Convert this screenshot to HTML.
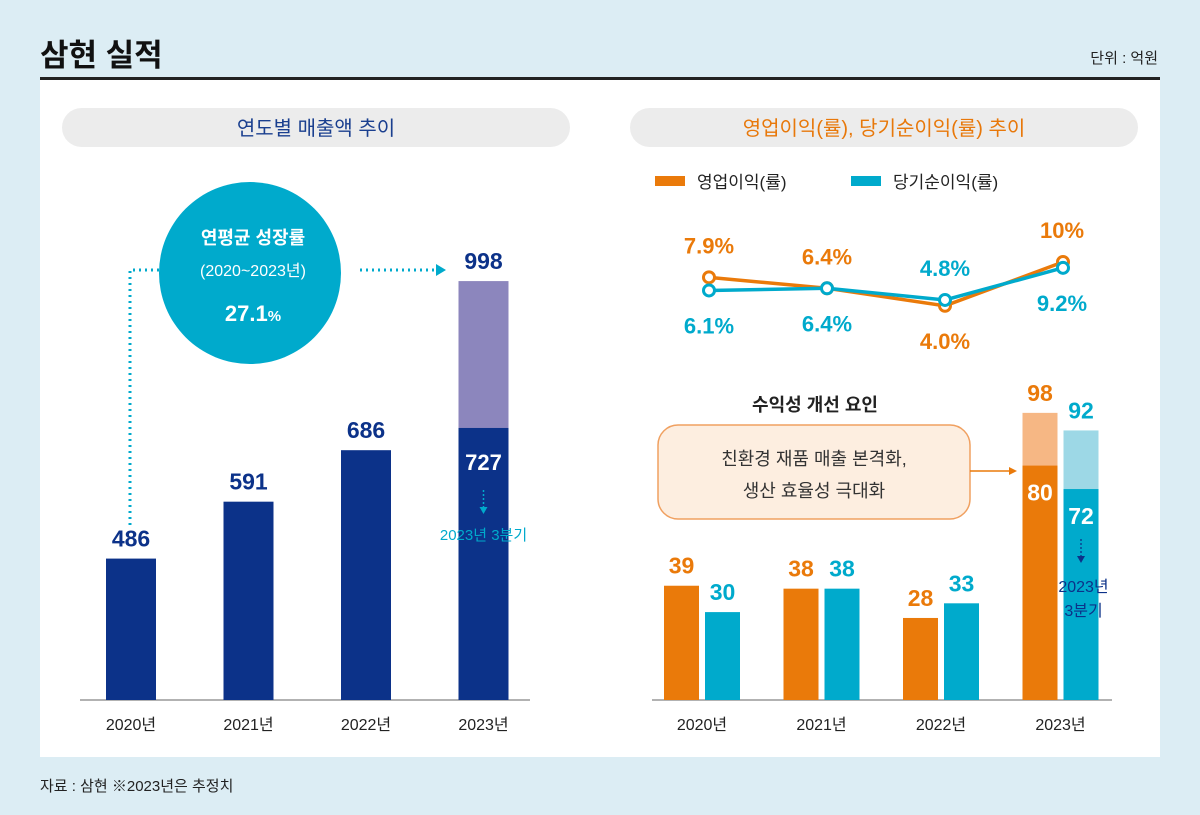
<!DOCTYPE html>
<html><head><meta charset="utf-8">
<style>
body{margin:0;background:#dcedf4;}
svg{display:block;font-family:"Liberation Sans","Noto Sans CJK KR",sans-serif;}
</style></head>
<body>
<svg id="c" width="1200" height="815" viewBox="0 0 1200 815">
<rect x="0" y="0" width="1200" height="815" fill="#dcedf4"/>
<text x="40" y="66" font-size="31" font-weight="bold" fill="#111">삼현 실적</text>
<text x="1158" y="63" font-size="15" fill="#222" text-anchor="end">단위 : 억원</text>
<rect x="40" y="77" width="1120" height="3" fill="#222"/>
<rect x="40" y="80" width="1120" height="677" fill="#fff"/>
<rect x="62" y="108" width="508" height="39" rx="19.5" fill="#ececec"/>
<text x="316" y="135" font-size="20" fill="#1a3f8f" text-anchor="middle">연도별 매출액 추이</text>
<rect x="630" y="108" width="508" height="39" rx="19.5" fill="#ececec"/>
<text x="884" y="135" font-size="20" fill="#e8780a" text-anchor="middle">영업이익(률), 당기순이익(률) 추이</text>
<text x="40" y="791" font-size="15" fill="#222">자료 : 삼현 ※2023년은 추정치</text>
<g id="left"></g>
<g id="right"></g>
</svg>
<script>
const years = ["2020년","2021년","2022년","2023년"];
const revenue = [486, 591, 686, 998];
const revenueQ3 = 727;
const opRate = [7.9, 6.4, 4.0, 10];
const netRate = [6.1, 6.4, 4.8, 9.2];
const opProfit = [39, 38, 28, 98];
const netProfit = [30, 38, 33, 92];
const opQ3 = 80;
const netQ3 = 72;

const NS="http://www.w3.org/2000/svg";
function mk(parent,tag,attrs,text){const e=document.createElementNS(NS,tag);for(const k in attrs)e.setAttribute(k,attrs[k]);if(text!==undefined)e.textContent=text;parent.appendChild(e);return e;}

// Left chart
const L=document.getElementById('left');
const base=700;
const lx=i=>131+i*117.5;
function ly(v){return base-(0.542*v-122);}
mk(L,'line',{x1:80,y1:base,x2:530,y2:base,stroke:'#999','stroke-width':1.5});
revenue.forEach((v,i)=>{
  const x=lx(i), y=ly(v);
  const b=mk(L,'rect',{x:x-25,y:y,width:50,height:base-y,fill:i==3?'#8c86bd':'#0c3289'});
  
  
  const t=mk(L,'text',{x:x,y:y-12,'font-size':23,'font-weight':'bold',fill:'#0c3289','text-anchor':'middle'},String(v));
  
  
  const xl=mk(L,'text',{x:x,y:730,'font-size':16,fill:'#222','text-anchor':'middle'},years[i]);
  
  
});
{
  const x=lx(3), y=ly(revenueQ3);
  const b=mk(L,'rect',{x:x-25,y:y,width:50,height:base-y,fill:'#0c3289'});
  
  
  const t=mk(L,'text',{x:x,y:y+42,'font-size':22,'font-weight':'bold',fill:'#fff','text-anchor':'middle'},String(revenueQ3));
  
  
  mk(L,'line',{x1:x,y1:y+62,x2:x,y2:y+80,stroke:'#00aacc','stroke-width':1.5,'stroke-dasharray':'2 2'});
  mk(L,'path',{d:`M${x-4} ${y+79} L${x+4} ${y+79} L${x} ${y+86}Z`,fill:'#00aacc'});
  const q=mk(L,'text',{x:x,y:y+112,'font-size':15,fill:'#00aacc','text-anchor':'middle'},'2023년 3분기');
  
  
}
// growth circle + dotted lines
mk(L,'path',{d:'M130 525 L130 270 L165 270',fill:'none',stroke:'#00aacc','stroke-width':3,'stroke-dasharray':'2 4'});
mk(L,'path',{d:'M360 270 L436 270',fill:'none',stroke:'#00aacc','stroke-width':3,'stroke-dasharray':'2 4'});
mk(L,'path',{d:'M436 264 L446 270 L436 276Z',fill:'#00aacc'});
const circ=mk(L,'circle',{cx:250,cy:273,r:91,fill:'#00aacc'});


mk(L,'text',{x:253,y:244,'font-size':18,'font-weight':'bold',fill:'#fff','text-anchor':'middle'},'연평균 성장률');
mk(L,'text',{x:253,y:276,'font-size':16,fill:'#fff','text-anchor':'middle'},'(2020~2023년)');
const cg=mk(L,'text',{x:253,y:321,'font-size':22,'font-weight':'bold',fill:'#fff','text-anchor':'middle'});


cg.innerHTML='27.1<tspan font-size="15">%</tspan>';

// Right chart
const R=document.getElementById('right');
const OR='#ea7a0a', TE='#00aacc';
const py=v=>335-7.3*v;
const by=v=>700-2.93*v;
// legend
mk(R,'rect',{x:655,y:176,width:30,height:10,fill:OR});
mk(R,'text',{x:697,y:188,'font-size':17,fill:'#222'},'영업이익(률)');
mk(R,'rect',{x:851,y:176,width:30,height:10,fill:TE});
mk(R,'text',{x:893,y:188,'font-size':17,fill:'#222'},'당기순이익(률)');
// lines
const lpx=i=>709+i*118;
function series(arr,col,name,above){
  const d=arr.map((v,i)=>(i?'L':'M')+lpx(i)+' '+py(v)).join(' ');
  const p=mk(R,'path',{d:d,fill:'none',stroke:col,'stroke-width':3.5});
  
  
  arr.forEach((v,i)=>{
    const c=mk(R,'circle',{cx:lpx(i),cy:py(v),r:5.5,fill:'#fff',stroke:col,'stroke-width':3});
    
    
    const up=above[i];
    const t=mk(R,'text',{x:lpx(i)+(i==3?-1:0),y:up?py(v)-24:py(v)+43,'font-size':22,'font-weight':'bold',fill:col,'text-anchor':'middle'},(Number.isInteger(v)&&v>=10?v:v.toFixed(1))+'%');
    
    
  });
}
series(opRate,OR,'op-rate',[true,true,false,true]);
series(netRate,TE,'net-rate',[false,false,true,false]);
// bars
mk(R,'line',{x1:652,y1:700,x2:1112,y2:700,stroke:'#999','stroke-width':1.5});
years.forEach((yr,i)=>{
  const ox=664+i*119.5, tx=ox+41;
  const ov=opProfit[i], nv=netProfit[i];
  const b1=mk(R,'rect',{x:ox,y:by(ov),width:35,height:700-by(ov),fill:i==3?'#f6b784':OR});
  
  
  const b2=mk(R,'rect',{x:tx,y:by(nv),width:35,height:700-by(nv),fill:i==3?'#9dd8e6':TE});
  
  
  const t1=mk(R,'text',{x:ox+17.5,y:by(ov)-12,'font-size':23,'font-weight':'bold',fill:OR,'text-anchor':'middle'},String(ov));
  
  
  const t2=mk(R,'text',{x:tx+17.5,y:by(nv)-12,'font-size':23,'font-weight':'bold',fill:TE,'text-anchor':'middle'},String(nv));
  
  
  const xl=mk(R,'text',{x:ox+38,y:730,'font-size':16,fill:'#222','text-anchor':'middle'},yr);
  
  
  if(i==3){
    const q1=mk(R,'rect',{x:ox,y:by(opQ3),width:35,height:700-by(opQ3),fill:OR});
    
    
    const q2=mk(R,'rect',{x:tx,y:by(netQ3),width:35,height:700-by(netQ3),fill:TE});
    
    
    const l1=mk(R,'text',{x:ox+17.5,y:by(opQ3)+35,'font-size':23,'font-weight':'bold',fill:'#fff','text-anchor':'middle'},String(opQ3));
    
    
    const l2=mk(R,'text',{x:tx+17.5,y:by(netQ3)+35,'font-size':23,'font-weight':'bold',fill:'#fff','text-anchor':'middle'},String(netQ3));
    
    
    mk(R,'line',{x1:tx+17.5,y1:by(netQ3)+50,x2:tx+17.5,y2:by(netQ3)+68,stroke:'#0c3289','stroke-width':1.3,'stroke-dasharray':'2 2'});
    mk(R,'path',{d:`M${tx+13.5} ${by(netQ3)+67} L${tx+21.5} ${by(netQ3)+67} L${tx+17.5} ${by(netQ3)+74}Z`,fill:'#0c3289'});
    mk(R,'text',{x:tx+20,y:by(netQ3)+103,'font-size':16,fill:'#0c3289','text-anchor':'middle'},'2023년');
    mk(R,'text',{x:tx+20,y:by(netQ3)+127,'font-size':16,fill:'#0c3289','text-anchor':'middle'},'3분기');
  }
});
// callout
mk(R,'text',{x:815,y:411,'font-size':18,'font-weight':'bold',fill:'#222','text-anchor':'middle'},'수익성 개선 요인');
const box=mk(R,'rect',{x:658,y:425,width:312,height:94,rx:20,fill:'#fdeee0',stroke:'#f0a060','stroke-width':1.5});


mk(R,'text',{x:814,y:465,'font-size':18,fill:'#333','text-anchor':'middle'},'친환경 재품 매출 본격화,');
mk(R,'text',{x:814,y:497,'font-size':18,fill:'#333','text-anchor':'middle'},'생산 효율성 극대화');
mk(R,'line',{x1:970,y1:471,x2:1010,y2:471,stroke:OR,'stroke-width':1.5});
mk(R,'path',{d:'M1009 467 L1017 471 L1009 475Z',fill:OR});
</script>
</body></html>
